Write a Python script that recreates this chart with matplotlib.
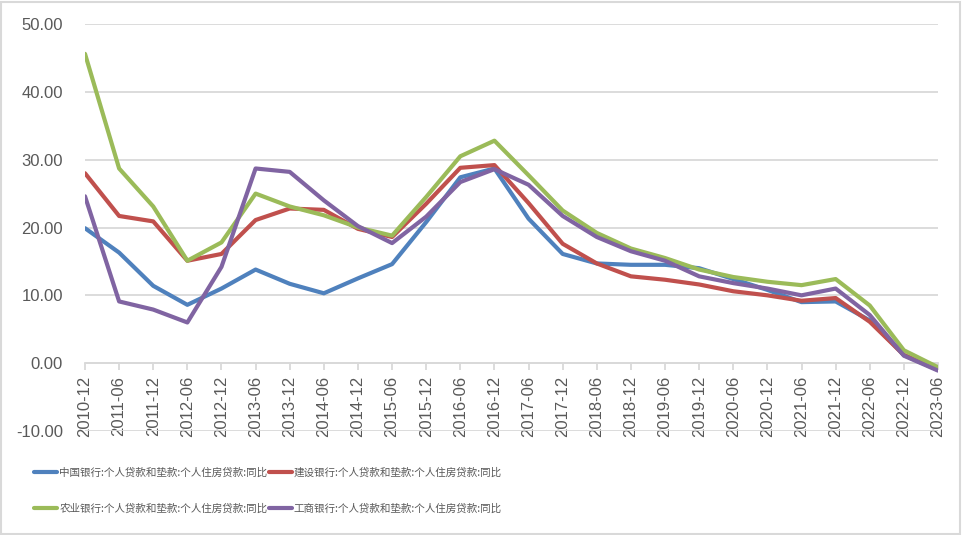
import matplotlib
matplotlib.use("Agg")
import matplotlib.pyplot as plt
from matplotlib.patches import Rectangle

categories = ["2010-12", "2011-06", "2011-12", "2012-06", "2012-12", "2013-06", "2013-12",
              "2014-06", "2014-12", "2015-06", "2015-12", "2016-06", "2016-12", "2017-06",
              "2017-12", "2018-06", "2018-12", "2019-06", "2019-12", "2020-06", "2020-12",
              "2021-06", "2021-12", "2022-06", "2022-12", "2023-06"]

boc = [19.9, 16.3, 11.4, 8.6, 11.0, 13.8, 11.7, 10.3, 12.5, 14.6, 20.8, 27.4, 28.7, 21.3,
       16.1, 14.7, 14.5, 14.5, 14.0, 12.4, 10.8, 9.0, 9.1, 6.3, 1.2, -1.0]
ccb = [28.0, 21.7, 20.9, 15.1, 16.1, 21.1, 22.8, 22.6, 19.8, 18.6, 23.5, 28.8, 29.2, 23.6,
       17.6, 14.7, 12.8, 12.3, 11.6, 10.6, 10.0, 9.2, 9.6, 6.1, 1.2, -0.9]
abc = [45.6, 28.7, 23.1, 15.1, 17.8, 25.0, 23.1, 21.8, 20.0, 18.8, 24.5, 30.5, 32.8, 27.7,
       22.5, 19.2, 16.9, 15.5, 13.8, 12.7, 12.0, 11.5, 12.4, 8.5, 1.9, -0.6]
icbc = [24.6, 9.1, 7.9, 6.0, 14.2, 28.7, 28.2, 24.0, 20.2, 17.7, 21.6, 26.7, 28.6, 26.3,
        21.7, 18.6, 16.5, 15.1, 12.8, 11.8, 11.0, 10.0, 11.0, 7.1, 1.1, -1.1]

series_names = ["中国银行:个人贷款和垫款:个人住房贷款:同比",
                "建设银行:个人贷款和垫款:个人住房贷款:同比",
                "农业银行:个人贷款和垫款:个人住房贷款:同比",
                "工商银行:个人贷款和垫款:个人住房贷款:同比"]
yticks = [-10, 0, 10, 20, 30, 40, 50]

colors = ["#4F81BD", "#C0504D", "#9BBB59", "#8064A2"]

fig = plt.figure(figsize=(9.63, 5.35), dpi=100)
fig.patches.append(Rectangle((0.001, 0.002), 0.996, 0.995, transform=fig.transFigure,
                             fill=False, edgecolor="#D9D9D9", linewidth=1.5))
ax = fig.add_axes([85/963, 1 - 431/535, (938 - 85)/963, (431 - 24)/535])

for s in ["top", "right", "left"]:
    ax.spines[s].set_visible(False)
ax.spines["bottom"].set_position(("data", 0))
ax.spines["bottom"].set_color("#D9D9D9")
ax.spines["bottom"].set_linewidth(1.3)

x = list(range(len(categories)))
lines = []
for vals, c, name in zip([boc, ccb, abc, icbc], colors, series_names):
    ln, = ax.plot(x, vals, color=c, linewidth=3.0, solid_joinstyle="round",
                  solid_capstyle="round", label=name, zorder=3)
    lines.append(ln)

ax.set_xlim(0, len(categories) - 1)
ax.set_ylim(-10, 50)
ax.set_yticks(yticks)
ax.set_yticklabels([f"{v:.2f}" for v in yticks], fontfamily="Liberation Sans",
                   fontsize=12, color="#595959")
ax.set_xticks(x)
ax.set_xticklabels(categories, rotation=90, fontfamily="Liberation Sans",
                   fontsize=12, color="#595959")
ax.grid(axis="y", color="#D9D9D9", linewidth=1.3, zorder=0)
ax.set_axisbelow(True)
ax.tick_params(axis="y", length=0, pad=16)
ax.tick_params(axis="x", length=5, width=1.3, color="#D9D9D9", pad=4, direction="out")

order = [0, 2, 1, 3]
leg = fig.legend(handles=[lines[i] for i in order], labels=[series_names[i] for i in order],
                 ncol=2, loc="upper left",
                 bbox_to_anchor=(34/963, 1 - 467/535), frameon=False,
                 prop={"family": ["Noto Sans CJK SC", "DejaVu Sans"], "size": 7.6},
                 handlelength=2.2, handletextpad=0.2, columnspacing=0.1,
                 labelspacing=2.5, borderpad=0, borderaxespad=0)
for t in leg.get_texts():
    t.set_color("#595959")

fig.savefig("out.png", dpi=100)
